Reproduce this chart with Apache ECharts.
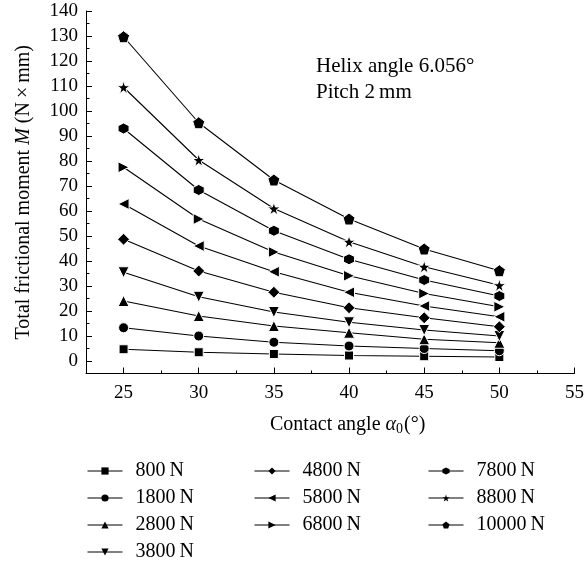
<!DOCTYPE html>
<html><head><meta charset="utf-8">
<script src="https://cdn.jsdelivr.net/npm/echarts@6/dist/echarts.min.js"></script>
<style>html,body{margin:0;padding:0;background:#fff}#c{width:587px;height:563px}</style>
</head><body><div id="c"></div>
<script>
// ---- data ----
const angles = [25, 30, 35, 40, 45, 50];
const loadNames = ['800\u2009N','1800\u2009N','2800\u2009N','3800\u2009N','4800\u2009N','5800\u2009N','6800\u2009N','7800\u2009N','8800\u2009N','10000\u2009N'];
const m800   = [4.7, 3.5, 2.8, 2.2, 1.9, 1.6];
const m1800  = [13.3, 10.0, 7.5, 6.0, 5.0, 4.1];
const m2800  = [24.0, 18.0, 14.0, 11.3, 8.7, 7.3];
const m3800  = [35.5, 25.7, 19.6, 15.5, 12.4, 10.0];
const m4800  = [48.7, 36.0, 27.5, 21.3, 17.3, 13.7];
const m5800  = [62.8, 46.0, 35.7, 27.5, 22.0, 17.7];
const m6800  = [77.5, 56.8, 43.6, 34.1, 27.0, 21.7];
const m7800  = [93.0, 68.4, 52.1, 40.7, 32.4, 26.0];
const m8800  = [109.5, 80.4, 61.0, 47.7, 37.7, 30.3];
const m10000 = [129.7, 95.3, 72.4, 56.8, 44.8, 36.1];
const xTicks = [25, 30, 35, 40, 45, 50, 55];
const xMinorTicks = [27.5, 32.5, 37.5, 42.5, 47.5, 52.5];
const yTicks = [0, 10, 20, 30, 40, 50, 60, 70, 80, 90, 100, 110, 120, 130, 140];
const yMinorTicks = [5, 15, 25, 35, 45, 55, 65, 75, 85, 95, 105, 115, 125, 135];

// ---- styling ----
const FONT = 'Liberation Serif';
const hexagon = 'path://M0,-10 L8.66,-5 L8.66,5 L0,10 L-8.66,5 L-8.66,-5 Z';
const pentagon = 'path://M0,-10 L9.51,-3.09 L5.88,8.09 L-5.88,8.09 L-9.51,-3.09 Z';
const star = 'path://M0,-10 L2.245,-3.09 L9.51,-3.09 L3.633,1.18 L5.88,8.09 L0,3.82 L-5.88,8.09 L-3.633,1.18 L-9.51,-3.09 L-2.245,-3.09 Z';
const seriesValues = [m800, m1800, m2800, m3800, m4800, m5800, m6800, m7800, m8800, m10000];
const symbolDefs = [
  ['rect', 9, 0], ['circle', 10, 0], ['triangle', 11, 0], ['triangle', 11, 180],
  ['diamond', 12, 0], ['triangle', 11, 90], ['triangle', 11, -90],
  [hexagon, 11, 0], [star, 13, 0], [pentagon, 12, 0]
];

const series = seriesValues.map((vals, i) => ({
  name: loadNames[i],
  type: 'line',
  xAxisIndex: 0, yAxisIndex: 0,
  data: vals.map((v, j) => [angles[j], v]),
  symbol: symbolDefs[i][0],
  symbolSize: symbolDefs[i][1],
  symbolRotate: symbolDefs[i][2],
  showAllSymbol: true,
  lineStyle: { color: '#000', width: 1.1 },
  itemStyle: { color: '#000', borderColor: '#fff', borderWidth: 1 },
  emphasis: { disabled: true },
  z: 3
}));

function legendAt(left, data) {
  return {
    left: left, top: 461, orient: 'vertical', padding: 0,
    itemWidth: 35, itemHeight: 9, itemGap: 7,
    selectedMode: false,
    data: data,
    itemStyle: { borderWidth: 0 },
    lineStyle: { width: 1 },
    textStyle: { fontFamily: FONT, fontSize: 20, color: '#000', lineHeight: 20, padding: [0, 0, 0, 8] }
  };
}

const chart = echarts.init(document.getElementById('c'), null, { renderer: 'canvas' });
chart.setOption({
  animation: false,
  backgroundColor: '#fff',
  grid: { left: 86, top: 11, width: 489, height: 362.5, containLabel: false },
  xAxis: [{
    type: 'value', min: 22.5, max: 55, position: 'bottom',
    axisLine: { onZero: false, lineStyle: { color: '#000', width: 1 } },
    axisTick: { inside: true, length: 6, customValues: xTicks, lineStyle: { color: '#000' } },
    axisLabel: { customValues: xTicks, color: '#000', fontFamily: FONT, fontSize: 19, margin: 10 },
    splitLine: { show: false }
  }, {
    type: 'value', min: 22.5, max: 55, position: 'bottom', gridIndex: 0,
    axisLine: { show: false, onZero: false },
    axisTick: { inside: true, length: 3, customValues: xMinorTicks, lineStyle: { color: '#000' } },
    axisLabel: { show: false },
    splitLine: { show: false }
  }],
  yAxis: [{
    type: 'value', min: -5, max: 140, position: 'left',
    axisLine: { show: true, onZero: false, lineStyle: { color: '#000', width: 1 } },
    axisTick: { show: true, inside: true, length: 6, customValues: yTicks, lineStyle: { color: '#000' } },
    axisLabel: { customValues: yTicks, color: '#000', fontFamily: FONT, fontSize: 19, margin: 8 },
    splitLine: { show: false },
    name: 'Total frictional moment {i|M} (N\u2009×\u2009mm)',
    nameLocation: 'middle', nameRotate: 90, nameGap: 52,
    nameTextStyle: {
      fontFamily: FONT, fontSize: 20, color: '#000',
      rich: { i: { fontFamily: FONT, fontSize: 20, fontStyle: 'italic', color: '#000' } }
    }
  }, {
    type: 'value', min: -5, max: 140, position: 'left', gridIndex: 0,
    axisLine: { show: false, onZero: false },
    axisTick: { show: true, inside: true, length: 3.5, customValues: yMinorTicks, lineStyle: { color: '#000' } },
    axisLabel: { show: false },
    splitLine: { show: false }
  }],
  legend: [
    legendAt(87, loadNames.slice(0, 4)),
    legendAt(254, loadNames.slice(4, 7)),
    legendAt(428, loadNames.slice(7, 10))
  ],
  graphic: [
    { type: 'text', left: 316, top: 56, style: { text: 'Helix angle 6.056°', font: '21px "Liberation Serif"', fill: '#000' } },
    { type: 'text', left: 316, top: 82, style: { text: 'Pitch 2\u2009mm', font: '21px "Liberation Serif"', fill: '#000' } },
    { type: 'text', left: 270, top: 415, style: {
        text: 'Contact angle {a|α}{s|0}(°)',
        font: '20px "Liberation Serif"', fill: '#000',
        rich: {
          a: { fontFamily: FONT, fontSize: 20, fontStyle: 'italic', fill: '#000' },
          s: { fontFamily: FONT, fontSize: 14, fill: '#000', padding: [8, 1, 0, 0] }
        }
    } }
  ],
  series: series
});
</script>
</body></html>
